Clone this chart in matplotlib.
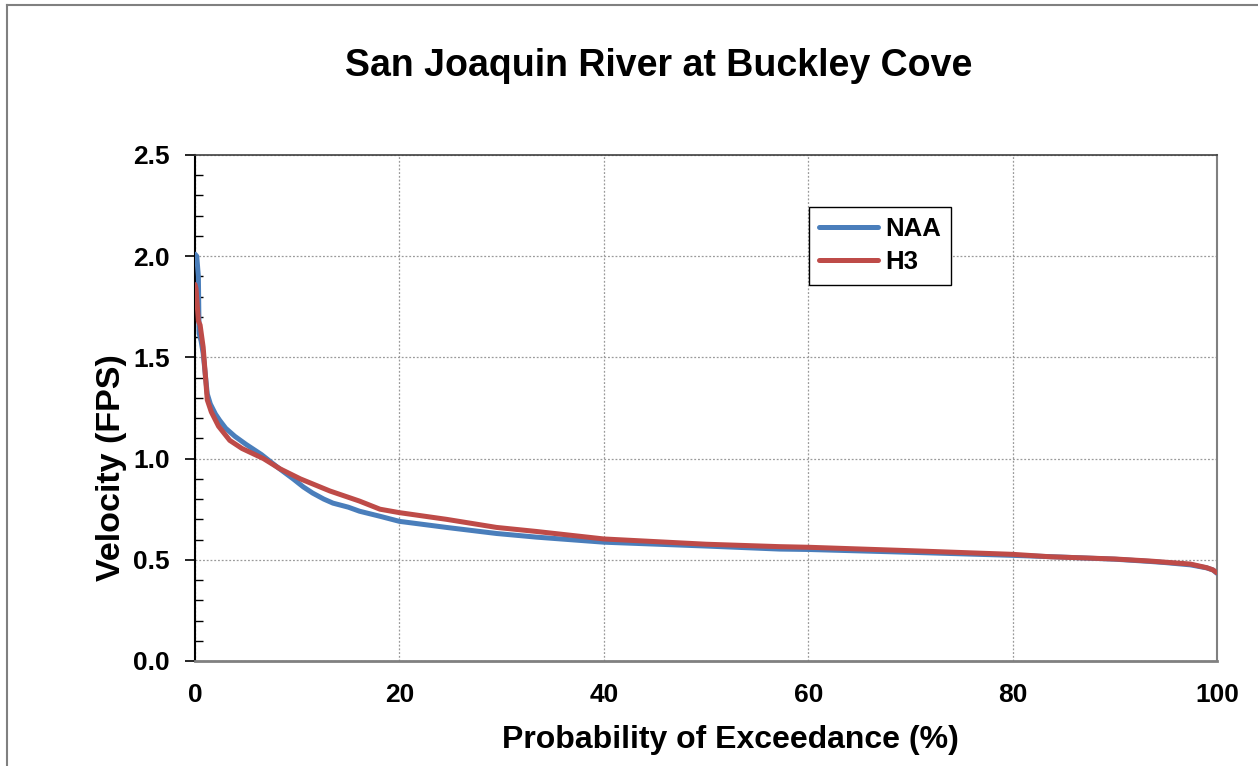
import matplotlib
matplotlib.use("Agg")
import matplotlib.pyplot as plt
from matplotlib.lines import Line2D
from matplotlib.ticker import MultipleLocator

plt.rcParams['font.family'] = ['Liberation Sans', 'DejaVu Sans']

title = "San Joaquin River at Buckley Cove"
xlabel = "Probability of Exceedance (%)"
ylabel = "Velocity (FPS)"

naa_x = [0, 0.17, 0.33, 0.4, 0.6, 0.8, 1.0, 1.2, 1.5, 2.0, 2.4, 3.0, 3.9, 5.0, 6.5, 8.0,
         9.6, 10.6, 11.5, 12.6, 13.5, 15, 16.1, 18.1, 20, 24.6, 29.5, 33.4, 40, 50, 57.2,
         60, 70, 80, 85, 90, 93.4, 95, 97.4, 99, 99.6, 100]
naa_v = [2.01, 2.0, 1.9, 1.62, 1.58, 1.52, 1.42, 1.32, 1.27, 1.22, 1.19, 1.15, 1.11, 1.07,
         1.02, 0.96, 0.90, 0.86, 0.83, 0.80, 0.78, 0.76, 0.74, 0.715, 0.69, 0.66, 0.63,
         0.612, 0.587, 0.568, 0.553, 0.551, 0.537, 0.522, 0.513, 0.503, 0.492, 0.486,
         0.475, 0.46, 0.45, 0.433]

h3_x = [0, 0.1, 0.33, 0.5, 0.8, 1.0, 1.2, 1.6, 2.3, 3.4, 4.6, 6.7, 8.3, 10.3, 13.2, 16.1,
        18.1, 20, 24.6, 29.5, 33.4, 40, 50, 57.2, 60, 70, 80, 83.7, 90, 93.4, 97.4, 99,
        99.6, 100]
h3_v = [1.86, 1.84, 1.68, 1.66, 1.55, 1.42, 1.29, 1.23, 1.16, 1.09, 1.05, 1.0, 0.95, 0.90,
        0.84, 0.79, 0.75, 0.733, 0.70, 0.66, 0.64, 0.603, 0.577, 0.565, 0.562, 0.545,
        0.527, 0.515, 0.504, 0.494, 0.479, 0.461, 0.45, 0.436]

W, H = 1258, 766
fig = plt.figure(figsize=(W / 100, H / 100), dpi=100)
ax = fig.add_axes([195 / W, 1 - 661 / H, (1217 - 195) / W, (661 - 155) / H])

ax.plot(naa_x, naa_v, color='#4A7EBB', lw=3.6, label='NAA', solid_capstyle='round', zorder=3)
ax.plot(h3_x, h3_v, color='#BE4B48', lw=3.6, label='H3', solid_capstyle='round', zorder=4)

ax.set_xlim(0, 100)
ax.set_ylim(0, 2.5)
ax.xaxis.set_major_locator(MultipleLocator(20))
ax.yaxis.set_major_locator(MultipleLocator(0.5))
ax.yaxis.set_minor_locator(MultipleLocator(0.1))
ax.set_yticklabels([f"{v:.1f}" for v in ax.get_yticks()])
ax.grid(True, which='major', color='#9a9a9a', linestyle=(0, (1.5, 1.5)), lw=0.9)
ax.tick_params(axis='x', length=0, pad=16, labelsize=19)
ax.tick_params(axis='y', which='major', direction='out', length=7, width=1.2, pad=11, labelsize=19)
ax.tick_params(axis='y', which='minor', direction='in', length=6, width=1.0)
for lab in ax.get_xticklabels() + ax.get_yticklabels():
    lab.set_fontweight('bold')

ax.spines['left'].set_color('black')
ax.spines['left'].set_linewidth(1.5)
ax.spines['bottom'].set_color('#808080')
ax.spines['bottom'].set_linewidth(2)
ax.spines['top'].set_color('#404040')
ax.spines['top'].set_linewidth(1.2)
ax.spines['right'].set_color('#808080')
ax.spines['right'].set_linewidth(1.5)

leg = ax.legend(loc='upper left', bbox_to_anchor=((809 - 195) / (1217 - 195), 1 - (207 - 155) / (661 - 155)),
                fancybox=False, framealpha=1, edgecolor='black', borderpad=0.4,
                handlelength=2.3, handletextpad=0.25, labelspacing=0.35,
                prop={'weight': 'bold', 'size': 18.5}, borderaxespad=0)
leg.get_frame().set_linewidth(1.0)

fig.text(659 / W, 1 - 66 / H, title, ha='center', va='center', fontsize=27, fontweight='bold')
fig.text(730 / W, 1 - 740 / H, xlabel, ha='center', va='center', fontsize=23, fontweight='bold')
fig.text(112 / W, 1 - 468 / H, ylabel, ha='center', va='center', rotation=90, fontsize=24.5, fontweight='bold')

fig.add_artist(Line2D([7 / W, 7 / W], [0, 1 - 5 / H], transform=fig.transFigure, color='#808080', lw=1.5))
fig.add_artist(Line2D([7 / W, 1], [1 - 5 / H, 1 - 5 / H], transform=fig.transFigure, color='#808080', lw=1.5))

fig.savefig('out.png', dpi=100)
